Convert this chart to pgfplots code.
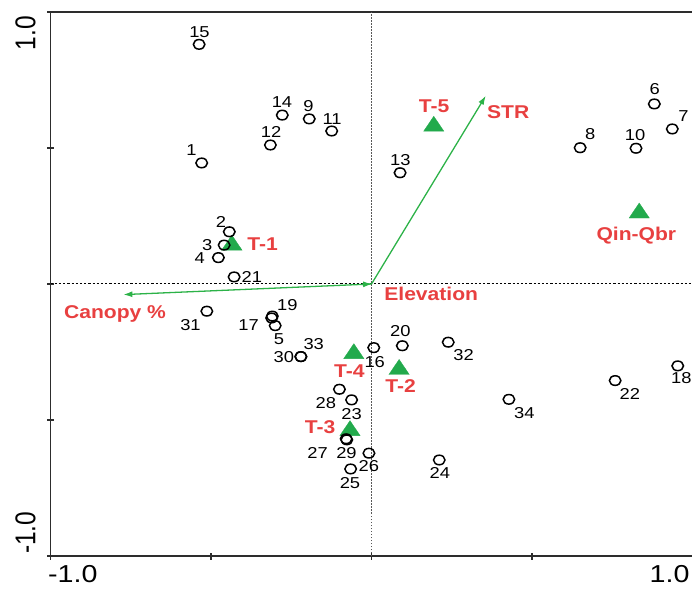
\documentclass[border=0pt]{standalone}
\usepackage{fontspec}
\setmainfont{Liberation Sans}
\usepackage{pgfplots}
\pgfplotsset{compat=1.18}
\usepackage{pgfplotstable}
\usetikzlibrary{arrows.meta}

\definecolor{envred}{RGB}{232,64,64}
\definecolor{trtgreen}{RGB}{34,170,76}
\definecolor{arrowgreen}{RGB}{44,178,72}
\definecolor{axisgray}{RGB}{45,45,45}

% sample plots (site scores)
\pgfplotstableread{
id x y
1 -0.529 0.445
2 -0.443 0.192
3 -0.459 0.143
4 -0.477 0.097
5 -0.300 -0.153
6 0.881 0.662
7 0.937 0.570
8 0.650 0.501
9 -0.194 0.607
10 0.824 0.499
11 -0.124 0.5625
12 -0.315 0.511
13 0.089 0.409
14 -0.278 0.621
15 -0.537 0.881
16 0.007 -0.234
17 -0.311 -0.125
18 0.954 -0.301
19 -0.309 -0.118
20 0.096 -0.227
21 -0.428 0.026
22 0.759 -0.355
23 -0.062 -0.426
24 0.211 -0.647
25 -0.065 -0.680
26 -0.008 -0.622
27 -0.079 -0.569
28 -0.100 -0.387
29 -0.077 -0.573
30 -0.220 -0.267
31 -0.513 -0.100
32 0.239 -0.214
33 -0.220 -0.267
34 0.428 -0.424
}\sites

% treatment centroids
\pgfplotstableread{
name x y
T-1 -0.435 0.143
T-2 0.086 -0.314
T-3 -0.067 -0.539
T-4 -0.055 -0.256
T-5 0.194 0.580
Qin-Qbr 0.834 0.261
}\treatments

\begin{document}
\begin{tikzpicture}[
  num/.style={anchor=base, inner sep=0pt, xscale=1.16, font=\fontsize{15.8}{18}\selectfont},
  env/.style={anchor=base, inner sep=0pt, xscale=1.14, text=envred, font=\bfseries\fontsize{18.5}{21}\selectfont},
  tlab/.style={inner sep=0pt, font=\fontsize{24.5}{28}\selectfont}
]
\begin{axis}[
  at={(50.5pt,32pt)}, anchor=south west,
  width=642pt, height=544pt, scale only axis,
  xmin=-1, xmax=1, ymin=-1, ymax=1,
  xtick={-1,-0.5,0,0.5,1}, ytick={-1,-0.5,0,0.5,1},
  xticklabel=\empty, yticklabel=\empty,
  tick pos=left, tick align=center,
  major tick length=7pt,
  major tick style={axisgray, line width=1.4pt},
  axis line style={axisgray, line width=1.8pt},
  clip=false,
]
% zero lines
\addplot[gray!70!black, line width=0.9pt, dash pattern=on 1.5pt off 1.5pt] coordinates {(0,-1) (0,1)};
\addplot[black, line width=1pt, dash pattern=on 2.2pt off 2pt] coordinates {(-1,0) (1,0)};

% environmental vectors
\addplot[arrowgreen, line width=1.3pt, -{Latex[length=9pt,width=6pt]}] coordinates {(0,0) (-0.773,-0.039)};
\addplot[arrowgreen, line width=1.3pt, -{Latex[length=9pt,width=6pt]}] coordinates {(0,0) (0.356,0.692)};
\addplot[arrowgreen, line width=1.3pt, -{Latex[length=9pt,width=6pt]}] coordinates {(-0.03,-0.0015) (0.002,0)};

% treatment centroids
\addplot[only marks, mark=triangle*, mark size=10pt,
  mark options={xscale=1.17, fill=trtgreen, draw=trtgreen, line width=0.3pt}]
  table[x=x, y=y] {\treatments};

% plots
\addplot[only marks, mark=o, mark size=4.8pt,
  mark options={xscale=1.2, line width=1.5pt, draw=black}]
  table[x=x, y=y] {\sites};

% plot numbers
\node[num] at (axis cs:-0.536,0.907) {15};
\node[num] at (axis cs:-0.279,0.648) {14};
\node[num] at (axis cs:-0.196,0.633) {9};
\node[num] at (axis cs:-0.123,0.587) {11};
\node[num] at (axis cs:-0.313,0.538) {12};
\node[num] at (axis cs:-0.561,0.474) {1};
\node[num] at (axis cs:-0.469,0.207) {2};
\node[num] at (axis cs:-0.512,0.124) {3};
\node[num] at (axis cs:-0.535,0.075) {4};
\node[num] at (axis cs:-0.373,0.005) {21};
\node[num] at (axis cs:0.090,0.437) {13};
\node[num] at (axis cs:0.882,0.697) {6};
\node[num] at (axis cs:0.972,0.599) {7};
\node[num] at (axis cs:0.681,0.531) {8};
\node[num] at (axis cs:0.821,0.526) {10};
\node[num] at (axis cs:-0.564,-0.171) {31};
\node[num] at (axis cs:-0.262,-0.099) {19};
\node[num] at (axis cs:-0.383,-0.171) {17};
\node[num] at (axis cs:-0.288,-0.222) {5};
\node[num] at (axis cs:-0.180,-0.241) {33};
\node[num] at (axis cs:-0.273,-0.287) {30};
\node[num] at (axis cs:0.010,-0.307) {16};
\node[num] at (axis cs:0.090,-0.194) {20};
\node[num] at (axis cs:0.287,-0.283) {32};
\node[num] at (axis cs:-0.142,-0.458) {28};
\node[num] at (axis cs:-0.062,-0.497) {23};
\node[num] at (axis cs:-0.168,-0.640) {27};
\node[num] at (axis cs:-0.078,-0.640) {29};
\node[num] at (axis cs:-0.008,-0.690) {26};
\node[num] at (axis cs:-0.067,-0.753) {25};
\node[num] at (axis cs:0.213,-0.715) {24};
\node[num] at (axis cs:0.476,-0.493) {34};
\node[num] at (axis cs:0.805,-0.426) {22};
\node[num] at (axis cs:0.965,-0.364) {18};

% treatment and variable names
\node[env] at (axis cs:-0.339,0.124) {T-1};
\node[env] at (axis cs:0.195,0.632) {T-5};
\node[env] at (axis cs:0.426,0.609) {STR};
\node[env] at (axis cs:0.825,0.161) {Qin-Qbr};
\node[env] at (axis cs:0.186,-0.061) {Elevation};
\node[env] at (axis cs:-0.799,-0.126) {Canopy \%};
\node[env] at (axis cs:-0.069,-0.342) {T-4};
\node[env] at (axis cs:0.091,-0.400) {T-2};
\node[env] at (axis cs:-0.160,-0.550) {T-3};

% axis end labels
\node[tlab, anchor=base west, xscale=1.17] at (axis cs:-1.008,-1.099) {-1.0};
\node[tlab, anchor=base west, xscale=1.17] at (axis cs:0.866,-1.099) {1.0};
\node[tlab, anchor=base east, xscale=1.17, rotate=90] at (axis cs:-1.047,0.985) {1.0};
\node[tlab, anchor=base west, xscale=1.17, rotate=90] at (axis cs:-1.047,-0.993) {-1.0};
\end{axis}
\pgfresetboundingbox
\path[use as bounding box] (0,0) rectangle (692pt,588pt);
\end{tikzpicture}
\end{document}
